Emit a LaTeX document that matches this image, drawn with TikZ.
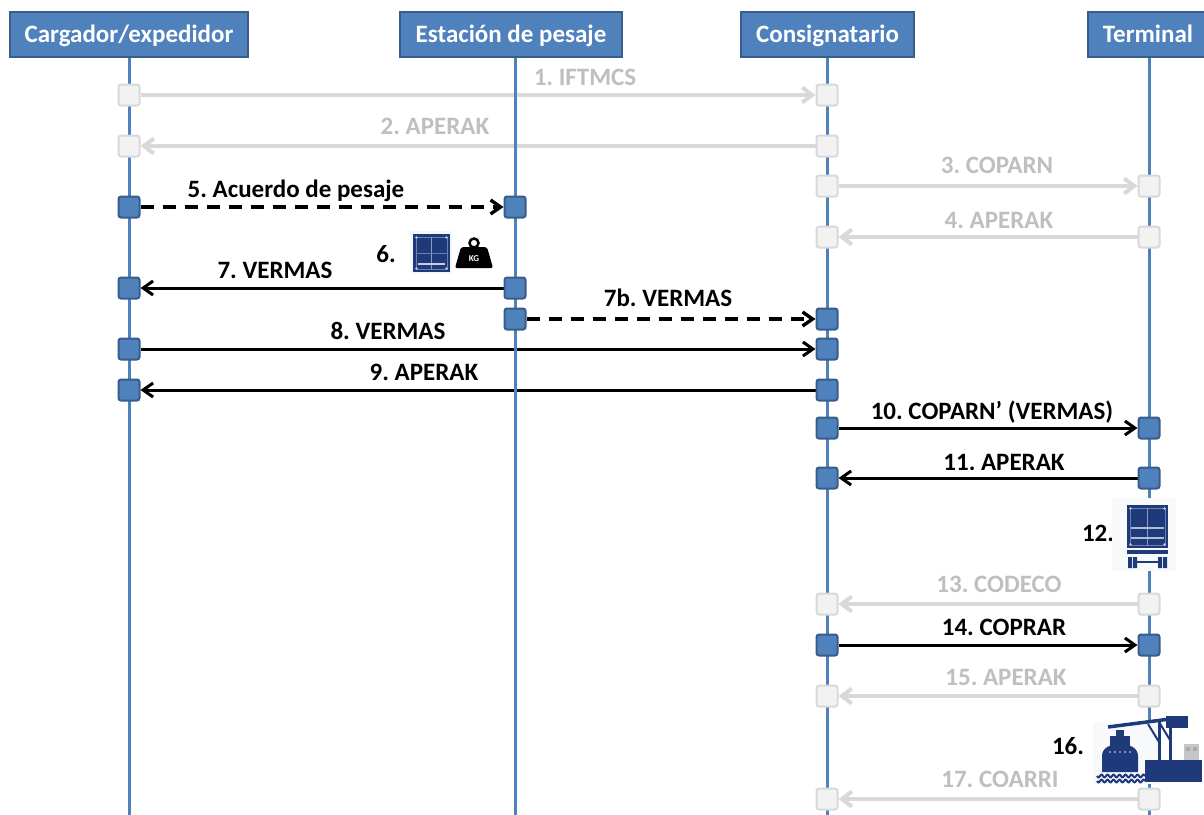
\documentclass[tikz,border=0pt]{standalone}
\usepackage{fontspec}
\setmainfont{Carlito}
\usetikzlibrary{arrows.meta}
\definecolor{hdrblue}{HTML}{4F81BD}
\definecolor{hdrline}{HTML}{385D8A}
\definecolor{greyline}{HTML}{D9D9D9}
\definecolor{greyfill}{HTML}{F2F2F2}
\definecolor{greytext}{HTML}{BFBFBF}
\definecolor{navy}{HTML}{1F3A7A}
\pgfdeclarelayer{bglayer}
\pgfdeclarelayer{msglayer}
\pgfdeclarelayer{lifelayer}
\pgfsetlayers{bglayer,msglayer,lifelayer,main}
\begin{document}
\begin{tikzpicture}[x=1pt,y=-1pt,
  every node/.style={font=\fontsize{25}{29}\selectfont\bfseries\frenchspacing},
  header/.style={draw=hdrline, fill=hdrblue, line width=2pt, text=white, minimum height=45pt, inner sep=0pt, text height=20pt, text depth=4pt},
  life/.style={draw=hdrblue, line width=3pt},
  actb/.style={draw=hdrline, fill=hdrblue, line width=2pt, rounded corners=2.5pt, minimum size=21pt, inner sep=0pt},
  actg/.style={draw=greyline, fill=greyfill, line width=2pt, rounded corners=2.5pt, minimum size=21pt, inner sep=0pt},
  msgb/.style={draw=black, line width=3pt, -{Straight Barb[length=10pt,width=14pt]}},
  msgd/.style={msgb, line width=3.4pt, dash pattern=on 13pt off 9pt},
  msgg/.style={draw=greyline, line width=4pt, -{Straight Barb[length=10pt,width=15pt]}},
  lbl/.style={anchor=base, inner sep=0pt, text=black},
  lblg/.style={lbl, text=greytext}
]
\useasboundingbox (0,0) rectangle (1204,814);
\begin{pgfonlayer}{bglayer}
\fill[white] (0,0) rectangle (1204,814);
\end{pgfonlayer}

% headers
\node[header, minimum width=238pt] (h1) at (129,34.5) {Cargador/expedidor};
\node[header, minimum width=222pt] (h2) at (511,34.5) {Estación de pesaje};
\node[header, minimum width=173pt] (h3) at (827.5,34.5) {Consignatario};
\node[header, minimum width=120pt] (h4) at (1148,34.5) {Terminal};

% lifelines
\coordinate (b1) at (129,820);
\coordinate (b2) at (515,820);
\coordinate (b3) at (827,820);
\coordinate (b4) at (1149,820);
\begin{pgfonlayer}{lifelayer}
\draw[life] (b1 |- h1.south) -- (b1);
\draw[life] (b2 |- h2.south) -- (b2);
\draw[life] (b3 |- h3.south) -- (b3);
\draw[life] (b4 |- h4.south) -- (b4);
\end{pgfonlayer}

% activation squares
\node[actg] (s1a) at (129,95) {};   \node[actg] (s1c) at (827,95) {};
\node[actg] (s2a) at (129,146) {};  \node[actg] (s2c) at (827,146) {};
\node[actg] (s3c) at (827,186) {};  \node[actg] (s3d) at (1149,186) {};
\node[actg] (s4c) at (827,237) {};  \node[actg] (s4d) at (1149,237) {};
\node[actb] (s5a) at (129,207) {};  \node[actb] (s5b) at (515,207) {};
\node[actb] (s7a) at (129,288) {};  \node[actb] (s7b) at (515,288) {};
\node[actb] (s7bb) at (515,319) {}; \node[actb] (s7bc) at (827,319) {};
\node[actb] (s8a) at (129,349) {};  \node[actb] (s8c) at (827,349) {};
\node[actb] (s9a) at (129,390) {};  \node[actb] (s9c) at (827,390) {};
\node[actb] (s10c) at (827,428) {}; \node[actb] (s10d) at (1149,428) {};
\node[actb] (s11c) at (827,478) {}; \node[actb] (s11d) at (1149,478) {};
\node[actg] (s13c) at (827,604) {}; \node[actg] (s13d) at (1149,604) {};
\node[actb] (s14c) at (827,645) {}; \node[actb] (s14d) at (1149,645) {};
\node[actg] (s15c) at (827,696) {}; \node[actg] (s15d) at (1149,696) {};
\node[actg] (s17c) at (827,799) {}; \node[actg] (s17d) at (1149,799) {};

% messages
\begin{pgfonlayer}{msglayer}
\draw[msgg] (s1a) -- (s1c);
\draw[msgg] (s2c) -- (s2a);
\draw[msgg] (s3c) -- (s3d);
\draw[msgg] (s4d) -- (s4c);
\draw[msgd] (s5a) -- (s5b);
\draw[msgb] (s7b) -- (s7a);
\draw[msgd] (s7bb) -- (s7bc);
\draw[msgb] (s8a) -- (s8c);
\draw[msgb] (s9c) -- (s9a);
\draw[msgb] (s10c) -- (s10d);
\draw[msgb] (s11d) -- (s11c);
\draw[msgg] (s13d) -- (s13c);
\draw[msgb] (s14c) -- (s14d);
\draw[msgg] (s15d) -- (s15c);
\draw[msgg] (s17d) -- (s17c);
\end{pgfonlayer}

% labels
\node[lblg] (t1) at (585,85) {1. IFTMCS};
\node[lblg] (t2) at (435,134) {2. APERAK};
\node[lblg] (t3) at (997,173) {3. COPARN};
\node[lblg] (t4) at (999,228) {4. APERAK};
\node[lbl] (t5) at (296,197) {5. Acuerdo de pesaje};
\node[lbl] (t6) at (386,262) {6.};
\node[lbl] (t7) at (275,278) {7. VERMAS};
\node[lbl] (t7b) at (668,306) {7b. VERMAS};
\node[lbl] (t8) at (388,339) {8. VERMAS};
\node[lbl] (t9) at (424,380) {9. APERAK};
\node[lbl] (t10) at (992,419) {10. COPARN’ (VERMAS)};
\node[lbl] (t11) at (1004,470) {11. APERAK};
\node[lbl] (t12) at (1098,541) {12.};
\node[lblg] (t13) at (999,592) {13. CODECO};
\node[lbl] (t14) at (1004,635) {14. COPRAR};
\node[lblg] (t15) at (1006,685) {15. APERAK};
\node[lbl] (t16) at (1068,754) {16.};
\node[lblg] (t17) at (1000,787) {17. COARRI};

% icon 6: container
\fill[navy!4] (410,231) rectangle (452,274);
\fill[navy] (413,234) rectangle (450,272);
\draw[white!35!navy, line width=0.8pt] (416,237) rectangle (447,269);
\draw[white!50!navy, line width=1pt] (431.5,237) -- (431.5,269);
\draw[white!35!navy, line width=0.8pt] (416,253) -- (447,253);
\draw[white!75!navy, line width=1.3pt] (418,264) -- (445,264);
\fill[white!70!navy] (416.5,237.5) circle (1.3pt) (446.5,237.5) circle (1.3pt) (416.5,268.5) circle (1.3pt) (446.5,268.5) circle (1.3pt);
% weight
\draw[black, line width=2.5pt] (474,243) circle (4.5pt);
\fill[black, rounded corners=2pt] (455,268) -- (461,247) -- (487,247) -- (493,268) -- cycle;
\node[text=white, font=\fontsize{9}{9}\selectfont\bfseries, inner sep=0pt] (kg) at (474,258.5) {KG};

% icon 12: container on trailer
\fill[navy!3] (1112,498) rectangle (1176,571);
\fill[navy] (1127,505) rectangle (1168,548);
\draw[white!35!navy, line width=0.8pt] (1130,508) rectangle (1165,545);
\draw[white!50!navy, line width=1pt] (1147.5,508) -- (1147.5,545);
\draw[white!65!navy, line width=1.2pt] (1131,528) -- (1164,528) (1131,538) -- (1164,538);
\fill[white!70!navy] (1130.5,508.5) circle (1.3pt) (1164.5,508.5) circle (1.3pt) (1130.5,544.5) circle (1.3pt) (1164.5,544.5) circle (1.3pt);
\fill[navy] (1127,550) rectangle (1168,554);
\fill[navy] (1128,557) rectangle (1132,568) (1133,557) rectangle (1137,568)
            (1158,557) rectangle (1162,568) (1163,557) rectangle (1167,568);
\draw[navy, line width=1.5pt] (1137,562) -- (1158,562);

% icon 16: ship and crane
\fill[navy!3] (1093,722) rectangle (1160,784);
\fill[gray!45] (1184,744) rectangle (1199,760);
\fill[gray!65] (1186,747) rectangle (1190,751) (1193,747) rectangle (1197,751);
\draw[navy, line width=3.5pt] (1108,727) -- (1170,719);
\fill[navy] (1166,716) rectangle (1188,728);
\draw[navy, line width=3pt] (1159,722) -- (1159,762) (1170,720) -- (1170,762);
\draw[navy, line width=2pt] (1148,724) -- (1159,742) (1159,722) -- (1170,740);
\fill[navy] (1145,760) rectangle (1202,782);
\fill[navy] (1116,730) rectangle (1124,737);
\fill[navy] (1110,736) rectangle (1130,746);
\fill[navy] (1102,772) -- (1102,756) .. controls (1102,748) and (1110,744) .. (1120,744) .. controls (1130,744) and (1138,748) .. (1138,756) -- (1138,772) -- cycle;
\fill[white!60!navy] (1110,752) circle (1.2pt) (1115,752) circle (1.2pt) (1120,752) circle (1.2pt) (1125,752) circle (1.2pt) (1130,752) circle (1.2pt);
\draw[navy, line width=2pt] plot[domain=0:48, samples=60] ({1097+\x},{776+1.4*sin(\x*60)});
\draw[navy, line width=2pt] plot[domain=0:48, samples=60] ({1097+\x},{781+1.4*sin(\x*60)});
\end{tikzpicture}
\end{document}
